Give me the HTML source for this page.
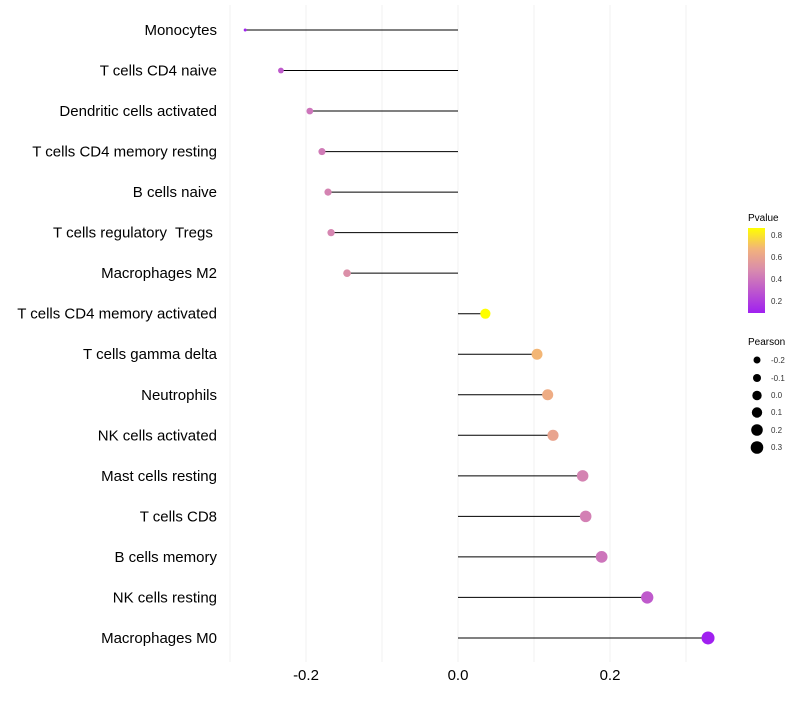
<!DOCTYPE html>
<html><head><meta charset="utf-8"><style>
body{margin:0;background:#fff;font-family:"Liberation Sans",sans-serif}
</style></head><body>
<svg id="chart" width="800" height="700" xmlns="http://www.w3.org/2000/svg" font-family="Liberation Sans, sans-serif">
<g id="grid"></g>
<g id="marks"></g>
<g id="ylabels"></g>
<g id="xlabels"></g>
<g>
<defs><linearGradient id="pg" x1="0" y1="1" x2="0" y2="0">
<stop offset="0" stop-color="#A020F0"/><stop offset="0.5" stop-color="#D88AAE"/><stop offset="0.75" stop-color="#F2B27C"/><stop offset="1" stop-color="#FFFF00"/></linearGradient></defs>
<text x="748" y="221" font-size="10">Pvalue</text>
<rect x="748" y="228" width="17" height="85" fill="url(#pg)"/>
<g font-size="8" fill="#333">
<text x="771" y="238">0.8</text><text x="771" y="260">0.6</text><text x="771" y="282">0.4</text><text x="771" y="304">0.2</text></g>
</g>
<g>
<text x="748" y="345" font-size="10">Pearson</text>
<g font-size="8" fill="#333">
<circle cx="757" cy="360" r="3.5" fill="#000"/><text x="771" y="363">-0.2</text>
<circle cx="757" cy="378" r="4" fill="#000"/><text x="771" y="381">-0.1</text>
<circle cx="757" cy="395.5" r="4.7" fill="#000"/><text x="771" y="398">0.0</text>
<circle cx="757" cy="412.5" r="5.2" fill="#000"/><text x="771" y="415">0.1</text>
<circle cx="757" cy="430" r="5.8" fill="#000"/><text x="771" y="433">0.2</text>
<circle cx="757" cy="447.5" r="6.3" fill="#000"/><text x="771" y="450">0.3</text>
</g></g>
</svg>
<script>
const categories=["Monocytes","T cells CD4 naive","Dendritic cells activated","T cells CD4 memory resting","B cells naive","T cells regulatory  Tregs ","Macrophages M2","T cells CD4 memory activated","T cells gamma delta","Neutrophils","NK cells activated","Mast cells resting","T cells CD8","B cells memory","NK cells resting","Macrophages M0"];
const pearson=[-0.280,-0.233,-0.195,-0.179,-0.171,-0.167,-0.146,0.036,0.104,0.118,0.125,0.164,0.168,0.189,0.249,0.329];
const pvalues=[0.10,0.30,0.40,0.42,0.45,0.46,0.50,0.86,0.68,0.64,0.60,0.45,0.44,0.40,0.30,0.09];
const xTicks=[-0.2,0,0.2];
const xTickLabels=["-0.2","0.0","0.2"];
const gridVals=[-0.3,-0.2,-0.1,0,0.1,0.2,0.3];
const NS="http://www.w3.org/2000/svg";
const x=v=>458+v*760;
const y=i=>30+i*40.53;
const r=v=>1.5+Math.sqrt(Math.max(0,(v+0.28)/0.61))*5;
function lerp(a,b,t){return a.map((c,i)=>Math.round(c+(b[i]-c)*t));}
const stops=[[0.09,[160,32,240]],[0.475,[216,138,174]],[0.67,[242,178,124]],[0.86,[255,255,0]]];
function col(p){p=Math.min(0.86,Math.max(0.09,p));for(let k=0;k<stops.length-1;k++){const[a,ca]=stops[k],[b,cb]=stops[k+1];if(p<=b){const c=lerp(ca,cb,(p-a)/(b-a));return`rgb(${c})`;}}return"rgb(255,255,0)";}
function mk(t,attrs,parent){const e=document.createElementNS(NS,t);for(const k in attrs)e.setAttribute(k,attrs[k]);parent.appendChild(e);return e;}
const grid=document.getElementById("grid");
gridVals.forEach(v=>{const l=mk("line",{x1:x(v),x2:x(v),y1:5,y2:662,stroke:"#f2f2f2","stroke-width":1},grid);

});
const marks=document.getElementById("marks"),yl=document.getElementById("ylabels"),xl=document.getElementById("xlabels");
categories.forEach((c,i)=>{
 const s=mk("line",{x1:x(0),x2:x(pearson[i]),y1:y(i),y2:y(i),stroke:"#000","stroke-width":1},marks);
 
 
 const d=mk("circle",{cx:x(pearson[i]),cy:y(i),r:r(pearson[i]),fill:col(pvalues[i])},marks);
 
 
 const t=mk("text",{x:217,y:y(i)+5,"text-anchor":"end","font-size":15,fill:"#000","xml:space":"preserve"},yl);
 t.style.whiteSpace="pre";
 t.textContent=c;
 
 
});
xTicks.forEach((v,i)=>{const t=mk("text",{x:x(v),y:680,"text-anchor":"middle","font-size":15,fill:"#000"},xl);
 t.textContent=xTickLabels[i];
 
 });
</script>
</body></html>
